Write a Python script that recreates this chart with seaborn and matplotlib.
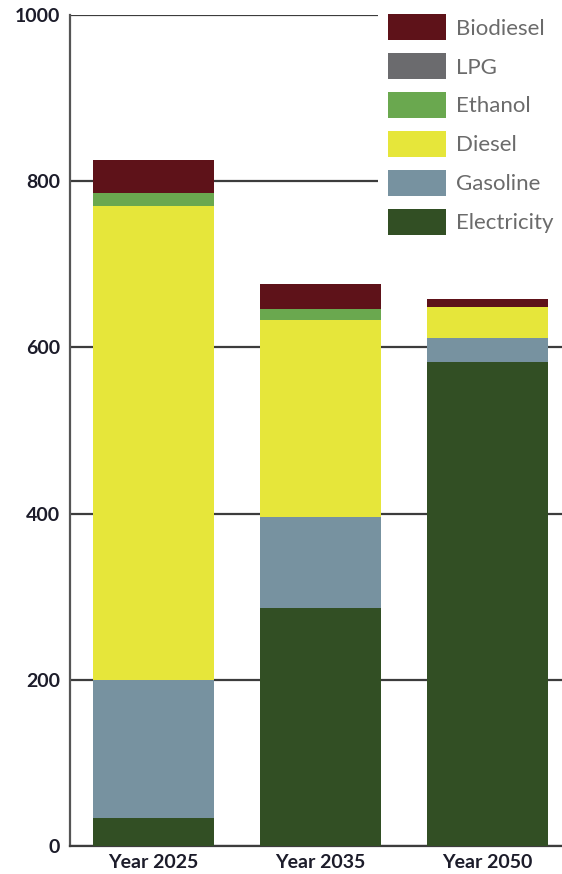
import matplotlib
matplotlib.use("Agg")
import matplotlib.pyplot as plt
from matplotlib.patches import Patch
from matplotlib.ticker import FixedLocator
import numpy as np
import seaborn as sns

years = ["Year 2025", "Year 2035", "Year 2050"]
series = ["Electricity", "Gasoline", "Diesel", "Ethanol", "LPG", "Biodiesel"]
electricity = [34, 286, 582]
gasoline = [166, 110, 29]
diesel = [570, 237, 38]
ethanol = [16, 13, 0]
lpg = [0, 0, 0]
biodiesel = [40, 30, 9]
yticks = [0, 200, 400, 600, 800, 1000]

colors = {
    "Electricity": "#324f24",
    "Gasoline": "#7792a0",
    "Diesel": "#e6e63a",
    "Ethanol": "#6aa84f",
    "LPG": "#6b6b6e",
    "Biodiesel": "#5e1219",
}
values = {
    "Electricity": electricity,
    "Gasoline": gasoline,
    "Diesel": diesel,
    "Ethanol": ethanol,
    "LPG": lpg,
    "Biodiesel": biodiesel,
}

sns.set_style("white")
plt.rcParams["font.family"] = ["Lato", "DejaVu Sans"]

fig = plt.figure(figsize=(5.62, 8.74), dpi=100)
ax = fig.add_axes([70 / 562, 1 - 846 / 874, 1 - 70 / 562, (846 - 15) / 874])

bottom = np.zeros(len(years))
for s in series:
    v = np.array(values[s], dtype=float)
    sns.barplot(x=years, y=v, bottom=bottom, color=colors[s], width=0.72,
                saturation=1, linewidth=0, ax=ax, zorder=3)
    bottom = bottom + v

ax.set_xlim(-0.5, 2.446)
ax.set_ylim(0, 1000)
ax.set_yticks(yticks)
ax.set_yticklabels([str(t) for t in yticks])
ax.yaxis.grid(True, color="#3c3c3c", lw=1.6, zorder=0)
ax.xaxis.grid(False)
ax.set_axisbelow(True)

for sp in ["top", "right"]:
    ax.spines[sp].set_visible(False)
ax.spines["left"].set_color("#555555")
ax.spines["left"].set_linewidth(1.6)
ax.spines["bottom"].set_color("#3c3c3c")
ax.spines["bottom"].set_linewidth(1.6)

ax.tick_params(axis="y", length=0, pad=7, labelsize=14, labelcolor="#1c1c2a")
ax.tick_params(axis="x", which="major", length=0, pad=6, labelsize=14, labelcolor="#1c1c2a")
for lab in ax.get_xticklabels() + ax.get_yticklabels():
    lab.set_fontweight("bold")
ax.xaxis.set_minor_locator(FixedLocator([0.5, 1.5]))
ax.tick_params(axis="x", which="minor", direction="in", length=14, width=1.6, color="#3c3c3c")
ax.set_xlabel("")
ax.set_ylabel("")

handles = [Patch(facecolor=colors[s], edgecolor="none", label=s) for s in series[::-1]]
leg = ax.legend(handles=handles, loc="upper left",
                bbox_to_anchor=(378 / 562, 1 - 4 / 874), bbox_transform=fig.transFigure,
                fontsize=16, frameon=True, framealpha=1, facecolor="white", edgecolor="none",
                handlelength=2.6, handleheight=1.4, labelspacing=0.595, handletextpad=0.45,
                borderpad=0.47, borderaxespad=0, fancybox=False)
for t in leg.get_texts():
    t.set_color("#6b6b6b")
leg.set_zorder(10)

fig.savefig("out.png", dpi=100)
